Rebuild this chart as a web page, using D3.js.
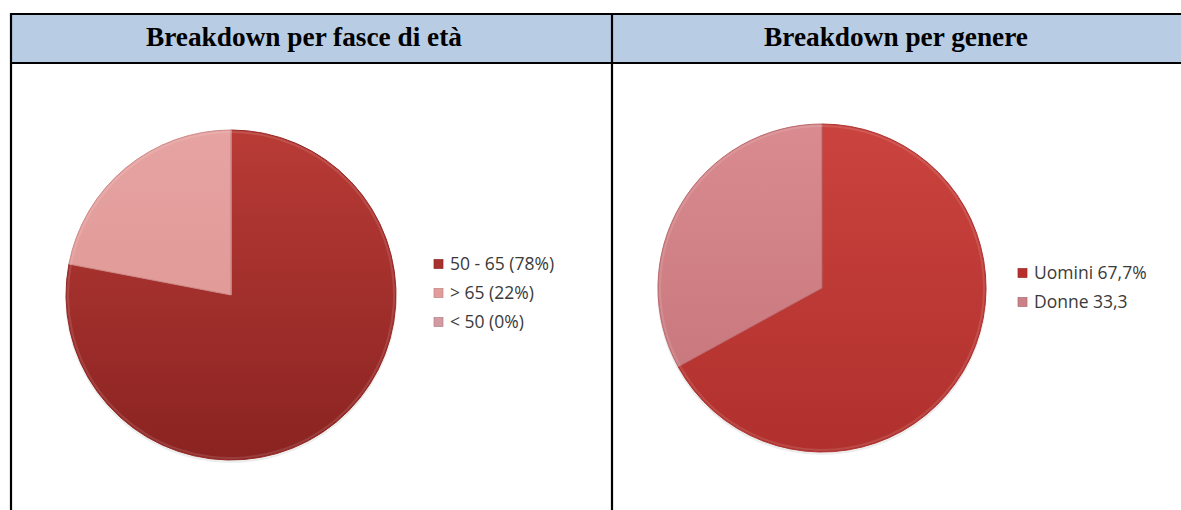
<!DOCTYPE html>
<html><head><meta charset="utf-8">
<script src="https://cdn.jsdelivr.net/npm/d3@7"></script>
<style>html,body{margin:0;padding:0;background:#fff;}svg{display:block;}</style>
</head><body>
<svg id="c" width="1181" height="510"></svg>
<script>
const titles = ["Breakdown per fasce di età", "Breakdown per genere"];
const ageCategories = ["50 - 65 (78%)", "> 65 (22%)", "< 50 (0%)"];
const ageValues = [78, 22, 0];
const genderCategories = ["Uomini 67,7%", "Donne 33,3"];
const genderValues = [67.7, 33.3];

const svg = d3.select("#c");
const defs = svg.append("defs");

function lin(id, c1, c2, y1, y2) {
  const g = defs.append("linearGradient").attr("id", id)
    .attr("gradientUnits", "userSpaceOnUse").attr("x1", 0).attr("x2", 0).attr("y1", y1).attr("y2", y2);
  g.append("stop").attr("offset", "0%").attr("stop-color", c1);
  g.append("stop").attr("offset", "100%").attr("stop-color", c2);
}

// header band
svg.append("rect").attr("x", 11).attr("y", 14).attr("width", 1170).attr("height", 49).attr("fill", "#b8cce4");
// borders
const bl = svg.append("g").attr("stroke", "#000").attr("stroke-width", 2.2);
bl.append("line").attr("x1", 10).attr("x2", 1181).attr("y1", 14).attr("y2", 14);
bl.append("line").attr("x1", 10).attr("x2", 1181).attr("y1", 63).attr("y2", 63);
bl.append("line").attr("x1", 11).attr("x2", 11).attr("y1", 13).attr("y2", 510);
bl.append("line").attr("x1", 612).attr("x2", 612).attr("y1", 13).attr("y2", 510);

const titleX = [304, 896];
titles.forEach((t, i) => {
  svg.append("text").attr("x", titleX[i]).attr("y", 46).attr("text-anchor", "middle")
    .attr("font-family", "'Liberation Serif','Times New Roman',serif").attr("font-weight", "bold")
    .attr("font-size", 27.3).attr("fill", "#000").text(t);
});

function drawPie(cfg) {
  const g = svg.append("g").attr("transform", `translate(${cfg.cx},${cfg.cy})`);
  const pie = d3.pie().sort(null).value(d => d)(cfg.values);
  const arc = d3.arc().innerRadius(0).outerRadius(cfg.r);
  cfg.fills.forEach((f, i) => lin(cfg.id + i, f[0], f[1], -cfg.r, cfg.r));
  g.append("circle").attr("r", cfg.r + 1).attr("cy", 2).attr("fill", "rgba(0,0,0,0.07)");
  g.selectAll("path.s").data(pie).join("path").attr("class", "s")
    .attr("d", arc).attr("fill", (d, i) => `url(#${cfg.id}${i})`)
    .attr("stroke", (d, i) => cfg.strokes[i]).attr("stroke-width", 1).attr("stroke-linejoin", "round");
  const rim = d3.arc().innerRadius(cfg.r - 3).outerRadius(cfg.r - 1);
  g.selectAll("path.h").data(pie).join("path").attr("class", "h")
    .attr("d", rim).attr("fill", "rgba(255,255,255,0.12)");

  const lg = svg.append("g").attr("transform", `translate(${cfg.lx},${cfg.ly})`);
  cfg.cats.forEach((c, i) => {
    const row = lg.append("g").attr("transform", `translate(0,${i * cfg.step})`);
    row.append("rect").attr("x", 0).attr("y", -4.5).attr("width", 9).attr("height", 9)
      .attr("fill", cfg.marks[i]).attr("stroke", d3.color(cfg.marks[i]).darker(0.5)).attr("stroke-width", 0.7);
    row.append("text").attr("x", 16).attr("y", 0).attr("dy", "0.35em")
      .attr("font-family", "'Open Sans','Noto Sans',sans-serif").attr("font-size", 17.5)
      .attr("fill", "#3a3a3a").text(c);
  });
}

drawPie({
  id: "pa", cx: 231, cy: 295, r: 165, values: ageValues, cats: ageCategories,
  fills: [["#b93b36", "#8a2321"], ["#e6a3a1", "#dc9391"], ["#d8a0a8", "#cc9098"]],
  strokes: ["#962b28", "#cf8a88", "#cf8a88"],
  marks: ["#a8302d", "#e29c9a", "#d49aa2"],
  lx: 434, ly: 264, step: 29
});
drawPie({
  id: "pg", cx: 822, cy: 288, r: 164, values: genderValues, cats: genderCategories,
  fills: [["#cb433e", "#b0302d"], ["#d98b8f", "#c47378"]],
  strokes: ["#ad3431", "#bb6a6f"],
  marks: ["#b8302e", "#cc8188"],
  lx: 1018, ly: 273, step: 29
});
</script>
</body></html>
